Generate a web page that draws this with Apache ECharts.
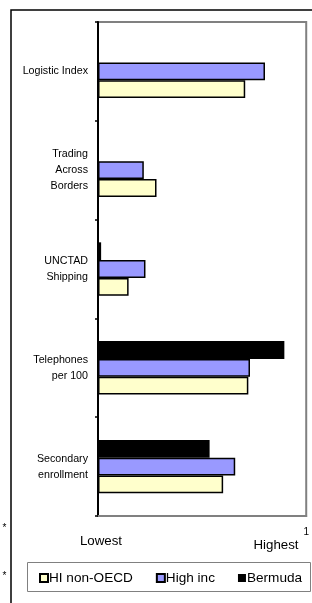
<!DOCTYPE html>
<html>
<head>
<meta charset="utf-8">
<script src="https://cdn.jsdelivr.net/npm/echarts@6/dist/echarts.min.js"></script>
<style>html,body{margin:0;padding:0;background:#fff}#c{width:312px;height:603px}</style>
</head>
<body>
<div id="c"></div>
<script>
var categories = ['Logistic Index', 'Trading\nAcross\nBorders', 'UNCTAD\nShipping', 'Telephones\nper 100', 'Secondary\nenrollment'];
var seriesNames = ['HI non-OECD', 'High inc', 'Bermuda'];
var hiNonOecd = [0.707, 0.281, 0.147, 0.722, 0.601];
var highInc = [0.802, 0.220, 0.228, 0.730, 0.659];
var bermuda = [null, null, 0.015, 0.895, 0.536];
var xMaxLabel = '1';
var lowLabel = 'Lowest';
var highLabel = 'Highest';

var FONT = 'Liberation Sans, Arial, sans-serif';
var chart = echarts.init(document.getElementById('c'), null, {renderer: 'canvas'});
function barSeries(name, data, color, bw) {
  return {
    name: name, type: 'bar', data: data,
    barGap: '0%', barCategoryGap: '46%',
    itemStyle: {color: color, borderColor: '#000', borderWidth: bw},
    emphasis: {disabled: true},
    animation: false
  };
}
chart.setOption({
  animation: false,
  grid: {left: 98, top: 22, width: 209, height: 494, show: true, borderColor: '#808080', borderWidth: 2, backgroundColor: '#fff'},
  xAxis: {
    type: 'value', min: 0, max: 1, interval: 1,
    axisLine: {show: true, lineStyle: {color: '#808080', width: 2}},
    axisTick: {show: false},
    splitLine: {show: false},
    axisLabel: {
      margin: 11, fontSize: 10, color: '#000', fontFamily: FONT,
      formatter: function (v) { return v === 1 ? xMaxLabel : ''; }
    }
  },
  yAxis: {
    type: 'category', inverse: true, data: categories,
    axisLine: {show: true, lineStyle: {color: '#000', width: 2}},
    axisTick: {show: true, length: 3, lineStyle: {color: '#000', width: 1.5}},
    axisLabel: {margin: 10, fontSize: 10.7, lineHeight: 16, color: '#000', fontFamily: FONT, align: 'right'},
    splitLine: {show: false}
  },
  legend: {
    data: seriesNames,
    left: 39, top: 571, padding: 0,
    itemWidth: 8, itemHeight: 8, itemGap: 23,
    icon: 'rect',
    textStyle: {fontSize: 13.6, color: '#000', fontFamily: FONT, padding: [0, 0, 0, -4]},
    selectedMode: false
  },
  series: [
    barSeries(seriesNames[2], bermuda, '#000000', 0),
    barSeries(seriesNames[1], highInc, '#9999FF', 1.5),
    barSeries(seriesNames[0], hiNonOecd, '#FFFFCC', 1.5)
  ],
  graphic: [
    {type: 'rect', shape: {x: 11, y: 10, width: 330, height: 620}, style: {fill: 'none', stroke: '#000', lineWidth: 1.5}, z: -10},
    {type: 'rect', shape: {x: 27.5, y: 562.5, width: 283, height: 29}, style: {fill: 'none', stroke: '#808080', lineWidth: 1}},
    {type: 'text', x: 101, y: 541, style: {text: lowLabel, font: '13.3px ' + FONT, fill: '#000', textAlign: 'center', textVerticalAlign: 'middle'}},
    {type: 'text', x: 276, y: 545, style: {text: highLabel, font: '13.3px ' + FONT, fill: '#000', textAlign: 'center', textVerticalAlign: 'middle'}},
    {type: 'text', x: 4.5, y: 528, style: {text: '*', font: '10px ' + FONT, fill: '#000', textAlign: 'center', textVerticalAlign: 'middle'}},
    {type: 'text', x: 4.5, y: 576, style: {text: '*', font: '10px ' + FONT, fill: '#000', textAlign: 'center', textVerticalAlign: 'middle'}}
  ]
});
</script>
</body>
</html>
